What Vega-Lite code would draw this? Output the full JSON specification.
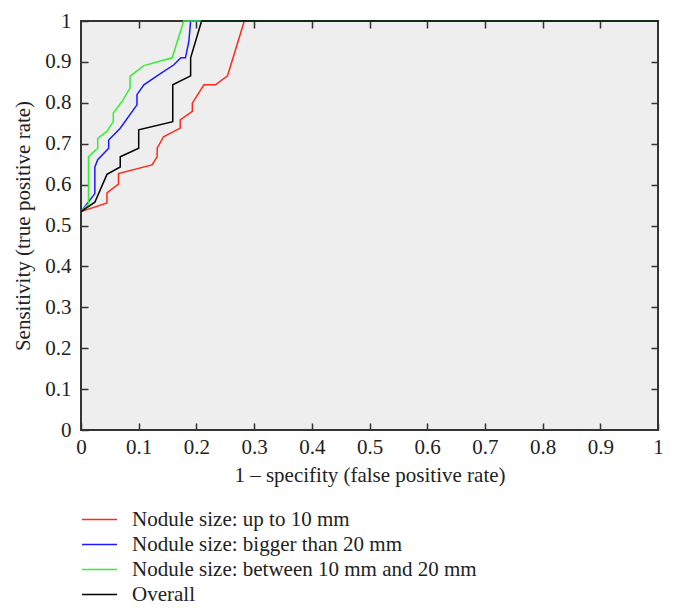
{
  "$schema": "https://vega.github.io/schema/vega-lite/v6.json",
  "width": 577,
  "height": 409,
  "autosize": {"type": "none"},
  "padding": {"left": 81, "top": 21, "right": 16, "bottom": 184},
  "background": "#ffffff",
  "config": {
    "font": "Liberation Serif",
    "view": {"fill": "#eeeeee", "stroke": "#333333", "strokeWidth": 2},
    "axis": {
      "domain": false,
      "grid": false,
      "tickSize": -7,
      "tickColor": "#333333",
      "tickWidth": 1.5,
      "labelFont": "Liberation Serif",
      "labelFontSize": 21,
      "labelColor": "#222222",
      "titleFont": "Liberation Serif",
      "titleFontSize": 21,
      "titleFontWeight": "normal",
      "titleColor": "#222222",
      "labelExpr": "format(datum.value, '~g')"
    },
    "legend": {
      "labelFont": "Liberation Serif",
      "labelFontSize": 21,
      "labelColor": "#222222",
      "labelLimit": 0,
      "symbolType": "M-2,0H2",
      "symbolStrokeWidth": 1.5,
      "symbolSize": 306,
      "rowPadding": 3,
      "labelOffset": 22
    }
  },
  "data": {
    "values": [
      {"s": "Nodule size: up to 10 mm", "o": 1, "x": 0, "y": 0.534},
      {"s": "Nodule size: up to 10 mm", "o": 2, "x": 0.045, "y": 0.555},
      {"s": "Nodule size: up to 10 mm", "o": 3, "x": 0.045, "y": 0.58},
      {"s": "Nodule size: up to 10 mm", "o": 4, "x": 0.065, "y": 0.601},
      {"s": "Nodule size: up to 10 mm", "o": 5, "x": 0.065, "y": 0.627},
      {"s": "Nodule size: up to 10 mm", "o": 6, "x": 0.123, "y": 0.648},
      {"s": "Nodule size: up to 10 mm", "o": 7, "x": 0.132, "y": 0.668},
      {"s": "Nodule size: up to 10 mm", "o": 8, "x": 0.132, "y": 0.689},
      {"s": "Nodule size: up to 10 mm", "o": 9, "x": 0.143, "y": 0.717},
      {"s": "Nodule size: up to 10 mm", "o": 10, "x": 0.172, "y": 0.738},
      {"s": "Nodule size: up to 10 mm", "o": 11, "x": 0.172, "y": 0.758},
      {"s": "Nodule size: up to 10 mm", "o": 12, "x": 0.193, "y": 0.779},
      {"s": "Nodule size: up to 10 mm", "o": 13, "x": 0.193, "y": 0.799},
      {"s": "Nodule size: up to 10 mm", "o": 14, "x": 0.213, "y": 0.844},
      {"s": "Nodule size: up to 10 mm", "o": 15, "x": 0.233, "y": 0.844},
      {"s": "Nodule size: up to 10 mm", "o": 16, "x": 0.254, "y": 0.866},
      {"s": "Nodule size: up to 10 mm", "o": 17, "x": 0.283, "y": 1},
      {"s": "Nodule size: up to 10 mm", "o": 18, "x": 1, "y": 1},
      {"s": "Nodule size: bigger than 20 mm", "o": 1, "x": 0, "y": 0.534},
      {"s": "Nodule size: bigger than 20 mm", "o": 2, "x": 0.024, "y": 0.578},
      {"s": "Nodule size: bigger than 20 mm", "o": 3, "x": 0.024, "y": 0.643},
      {"s": "Nodule size: bigger than 20 mm", "o": 4, "x": 0.029, "y": 0.661},
      {"s": "Nodule size: bigger than 20 mm", "o": 5, "x": 0.048, "y": 0.689},
      {"s": "Nodule size: bigger than 20 mm", "o": 6, "x": 0.048, "y": 0.709},
      {"s": "Nodule size: bigger than 20 mm", "o": 7, "x": 0.068, "y": 0.738},
      {"s": "Nodule size: bigger than 20 mm", "o": 8, "x": 0.097, "y": 0.795},
      {"s": "Nodule size: bigger than 20 mm", "o": 9, "x": 0.097, "y": 0.82},
      {"s": "Nodule size: bigger than 20 mm", "o": 10, "x": 0.109, "y": 0.844},
      {"s": "Nodule size: bigger than 20 mm", "o": 11, "x": 0.135, "y": 0.869},
      {"s": "Nodule size: bigger than 20 mm", "o": 12, "x": 0.161, "y": 0.893},
      {"s": "Nodule size: bigger than 20 mm", "o": 13, "x": 0.173, "y": 0.91},
      {"s": "Nodule size: bigger than 20 mm", "o": 14, "x": 0.181, "y": 0.91},
      {"s": "Nodule size: bigger than 20 mm", "o": 15, "x": 0.187, "y": 0.951},
      {"s": "Nodule size: bigger than 20 mm", "o": 16, "x": 0.19, "y": 1},
      {"s": "Nodule size: bigger than 20 mm", "o": 17, "x": 1, "y": 1},
      {"s": "Nodule size: between 10 mm and 20 mm", "o": 1, "x": 0, "y": 0.534},
      {"s": "Nodule size: between 10 mm and 20 mm", "o": 2, "x": 0.013, "y": 0.553},
      {"s": "Nodule size: between 10 mm and 20 mm", "o": 3, "x": 0.013, "y": 0.668},
      {"s": "Nodule size: between 10 mm and 20 mm", "o": 4, "x": 0.022, "y": 0.68},
      {"s": "Nodule size: between 10 mm and 20 mm", "o": 5, "x": 0.029, "y": 0.689},
      {"s": "Nodule size: between 10 mm and 20 mm", "o": 6, "x": 0.029, "y": 0.713},
      {"s": "Nodule size: between 10 mm and 20 mm", "o": 7, "x": 0.045, "y": 0.73},
      {"s": "Nodule size: between 10 mm and 20 mm", "o": 8, "x": 0.056, "y": 0.754},
      {"s": "Nodule size: between 10 mm and 20 mm", "o": 9, "x": 0.056, "y": 0.775},
      {"s": "Nodule size: between 10 mm and 20 mm", "o": 10, "x": 0.071, "y": 0.803},
      {"s": "Nodule size: between 10 mm and 20 mm", "o": 11, "x": 0.085, "y": 0.836},
      {"s": "Nodule size: between 10 mm and 20 mm", "o": 12, "x": 0.085, "y": 0.865},
      {"s": "Nodule size: between 10 mm and 20 mm", "o": 13, "x": 0.109, "y": 0.891},
      {"s": "Nodule size: between 10 mm and 20 mm", "o": 14, "x": 0.158, "y": 0.91},
      {"s": "Nodule size: between 10 mm and 20 mm", "o": 15, "x": 0.178, "y": 1},
      {"s": "Nodule size: between 10 mm and 20 mm", "o": 16, "x": 1, "y": 1},
      {"s": "Overall", "o": 1, "x": 0, "y": 0.534},
      {"s": "Overall", "o": 2, "x": 0.024, "y": 0.557},
      {"s": "Overall", "o": 3, "x": 0.045, "y": 0.625},
      {"s": "Overall", "o": 4, "x": 0.068, "y": 0.643},
      {"s": "Overall", "o": 5, "x": 0.068, "y": 0.668},
      {"s": "Overall", "o": 6, "x": 0.1, "y": 0.689},
      {"s": "Overall", "o": 7, "x": 0.1, "y": 0.734},
      {"s": "Overall", "o": 8, "x": 0.159, "y": 0.754},
      {"s": "Overall", "o": 9, "x": 0.159, "y": 0.844},
      {"s": "Overall", "o": 10, "x": 0.19, "y": 0.866},
      {"s": "Overall", "o": 11, "x": 0.19, "y": 0.91},
      {"s": "Overall", "o": 12, "x": 0.209, "y": 1},
      {"s": "Overall", "o": 13, "x": 1, "y": 1}
    ]
  },
  "layer": [
    {
      "mark": {"type": "line", "strokeWidth": 1.5},
      "encoding": {
        "x": {
          "field": "x", "type": "quantitative",
          "scale": {"domain": [0, 1], "nice": false},
          "axis": {"orient": "bottom", "values": [0, 0.1, 0.2, 0.3, 0.4, 0.5, 0.6, 0.7, 0.8, 0.9, 1], "labelPadding": 13, "title": "1 – specifity (false positive rate)", "titlePadding": 7, "labelFlush": false}
        },
        "y": {
          "field": "y", "type": "quantitative",
          "scale": {"domain": [0, 1], "nice": false},
          "axis": {"orient": "left", "values": [0, 0.1, 0.2, 0.3, 0.4, 0.5, 0.6, 0.7, 0.8, 0.9, 1], "labelPadding": 17, "title": "Sensitivity (true positive rate)", "titlePadding": 11, "labelFlush": false}
        },
        "color": {
          "field": "s", "type": "nominal",
          "scale": {
            "domain": ["Nodule size: up to 10 mm", "Nodule size: bigger than 20 mm", "Nodule size: between 10 mm and 20 mm", "Overall"],
            "range": ["#ff2a1a", "#1a1aff", "#33ee33", "#000000"]
          },
          "legend": {"title": null, "orient": "none", "legendX": 8, "legendY": 488}
        },
        "order": {"field": "o", "type": "quantitative"}
      }
    },
    {
      "mark": {"type": "line", "opacity": 0},
      "encoding": {
        "x": {
          "field": "x", "type": "quantitative",
          "axis": {"orient": "top", "values": [0.1, 0.2, 0.3, 0.4, 0.5, 0.6, 0.7, 0.8, 0.9], "labels": false, "title": null}
        },
        "y": {
          "field": "y", "type": "quantitative",
          "axis": {"orient": "right", "values": [0.1, 0.2, 0.3, 0.4, 0.5, 0.6, 0.7, 0.8, 0.9], "labels": false, "title": null}
        },
        "detail": {"field": "s"},
        "order": {"field": "o", "type": "quantitative"}
      }
    }
  ],
  "resolve": {"axis": {"x": "independent", "y": "independent"}}
}
